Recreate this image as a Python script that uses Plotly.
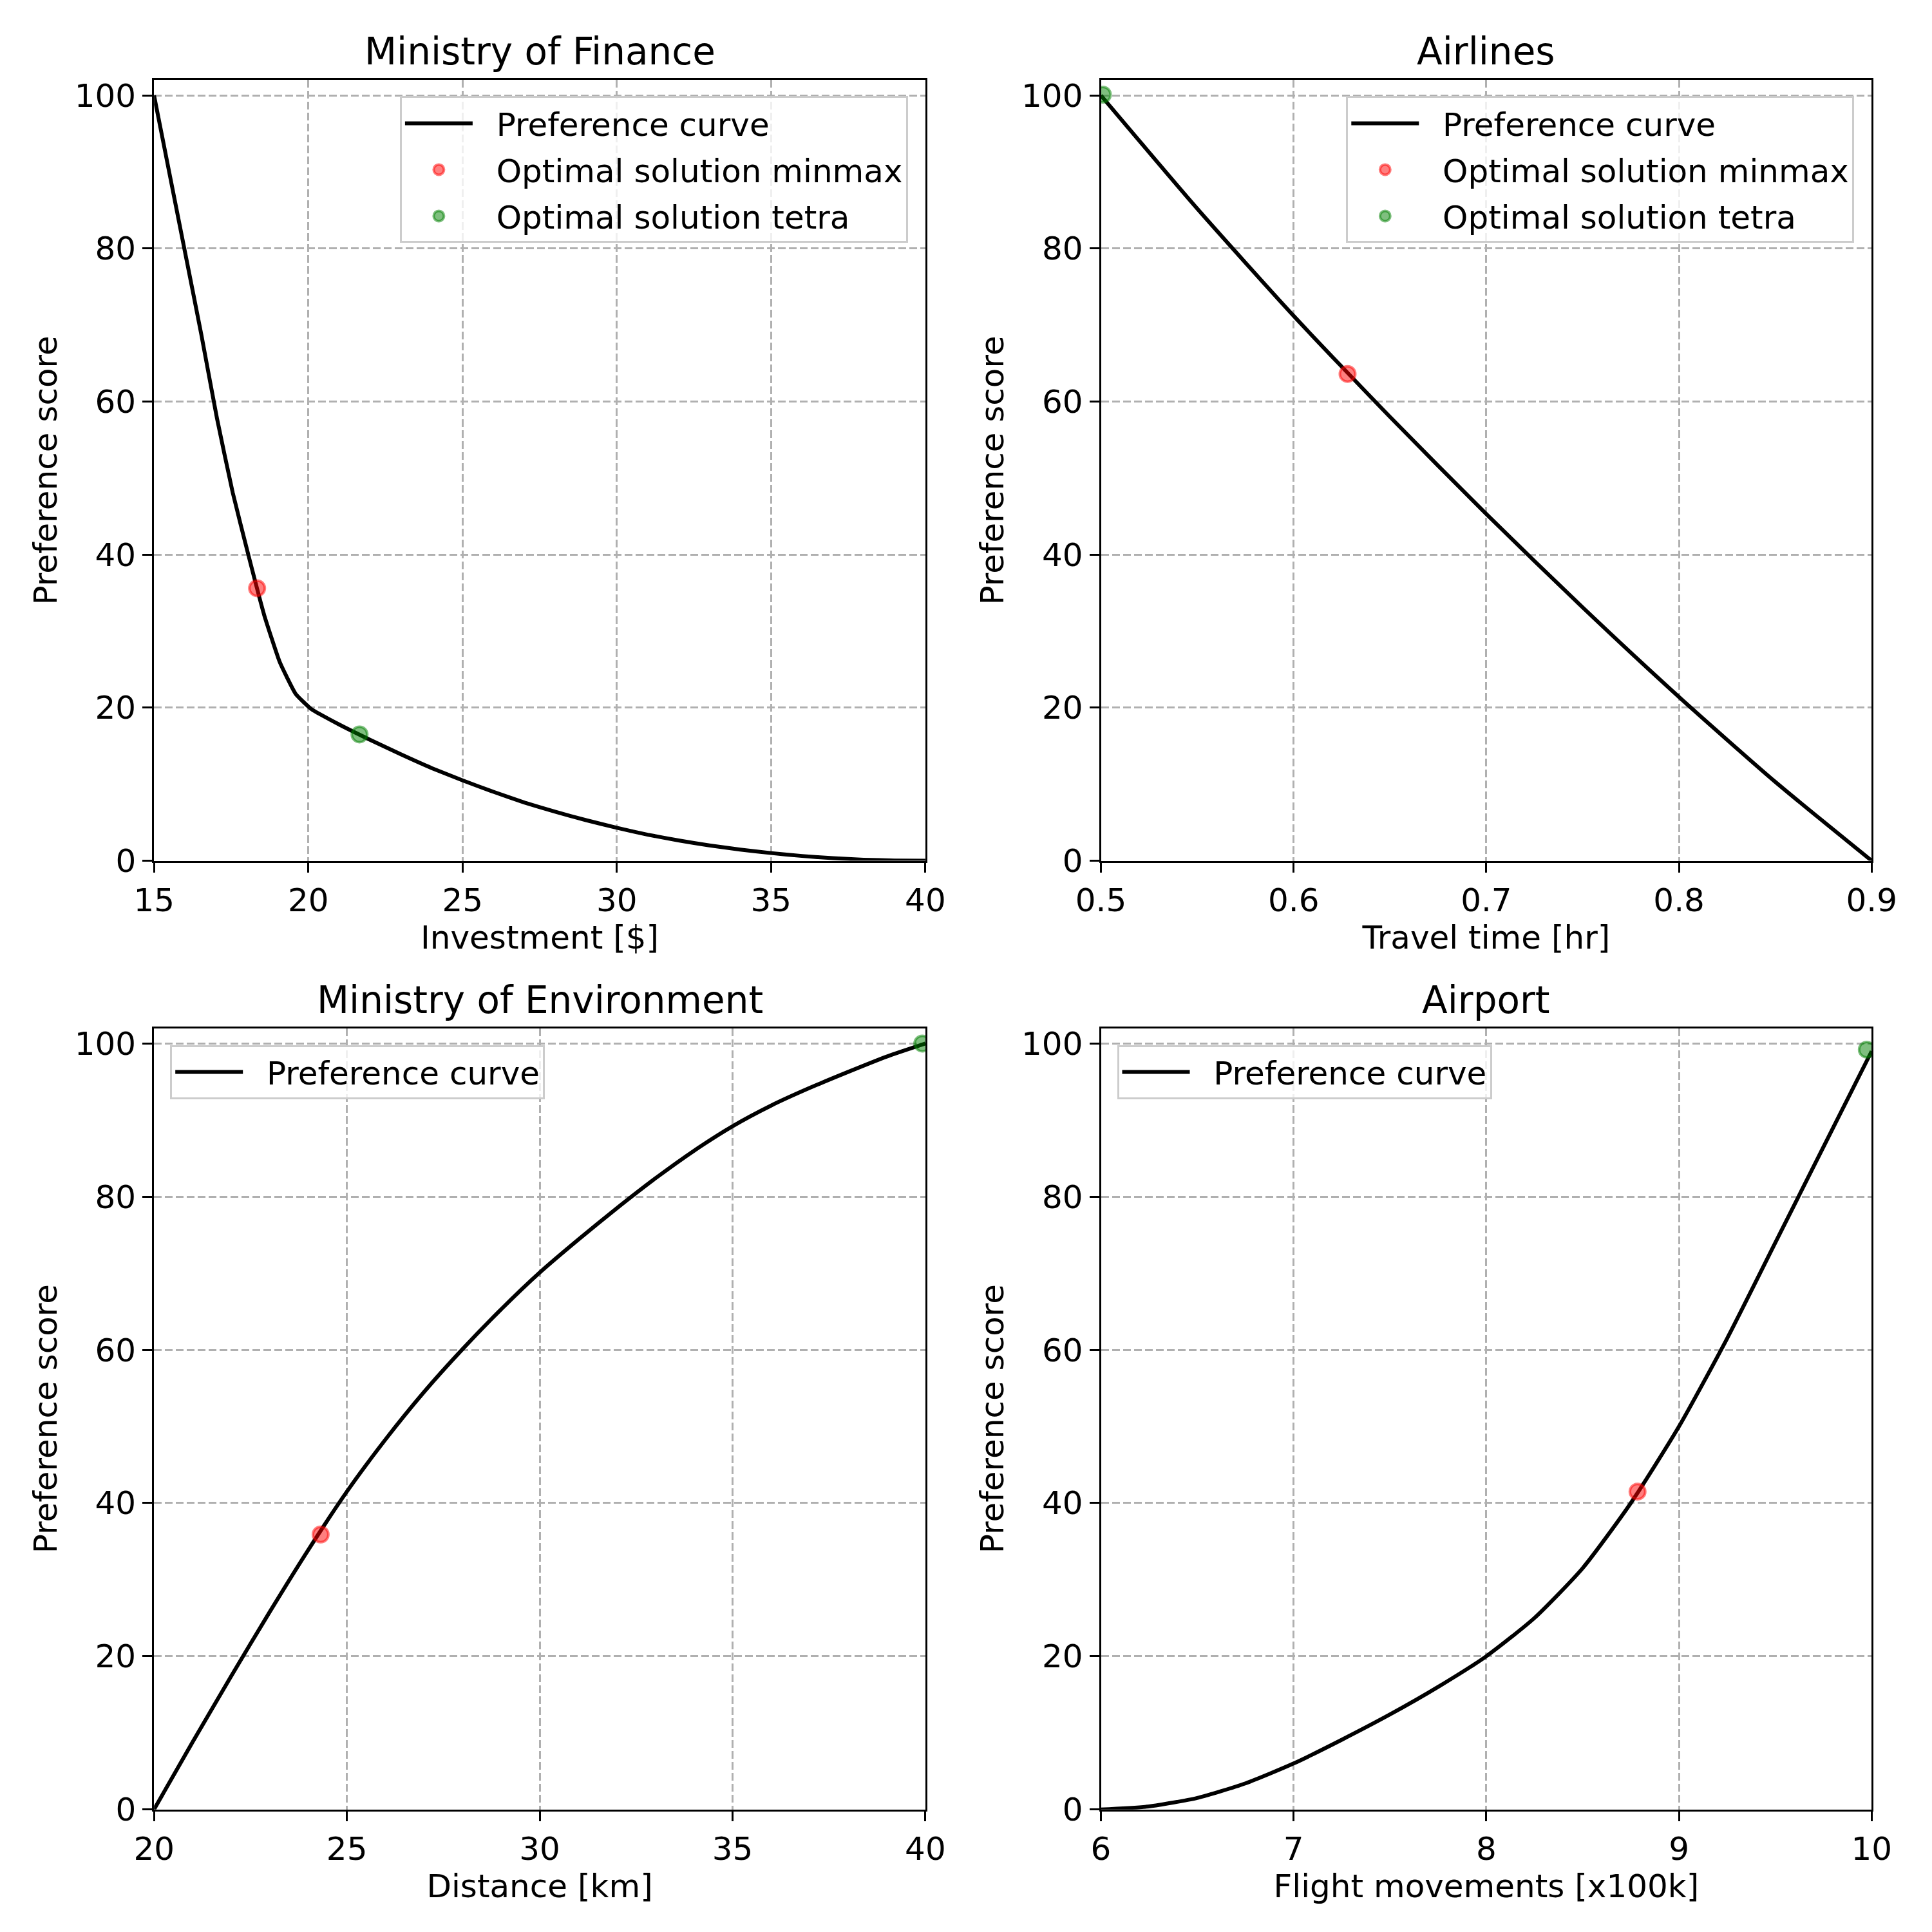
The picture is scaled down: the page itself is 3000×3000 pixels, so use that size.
import plotly.graph_objects as go

# ---------------- data ----------------
fin_x = [15.00, 15.51, 16.02, 16.53, 17.04, 17.55, 18.06, 18.57, 19.08, 19.59, 20.10,
         21, 22, 23, 24, 25, 26, 27, 28, 29, 30, 31, 32, 33, 34, 35, 36, 37, 38, 39, 40]
fin_y = [100, 89.6, 79.2, 68.8, 57.8, 48.1, 39.9, 32.1, 25.9, 21.8, 19.8,
         17.8, 15.8, 13.9, 12.1, 10.5, 9.0, 7.6, 6.4, 5.3, 4.3, 3.4, 2.65, 2.0, 1.45,
         1.0, 0.62, 0.33, 0.13, 0.03, 0]
fin_minmax = ([18.34], [35.6])
fin_tetra = ([21.66], [16.5])

air_x = [0.50, 0.55, 0.60, 0.65, 0.70, 0.75, 0.80, 0.85, 0.90]
air_y = [100, 85.2, 71.2, 58.0, 45.3, 33.1, 21.4, 10.3, 0]
air_minmax = ([0.628], [63.6])
air_tetra = ([0.501], [100.1])

env_x = [20, 21, 22, 23, 24, 25, 26, 27, 28, 29, 30, 31, 32, 33, 34, 35, 36, 37, 38, 39, 40]
env_y = [0, 8.8, 17.4, 25.8, 33.9, 41.5, 48.3, 54.5, 60.1, 65.3, 70.1,
         74.4, 78.5, 82.4, 86.0, 89.2, 91.9, 94.2, 96.3, 98.3, 100]
env_minmax = ([24.32], [35.9])
env_tetra = ([39.92], [100.0])

apt_x = [6.0, 6.25, 6.5, 6.75, 7.0, 7.25, 7.5, 7.75, 8.0, 8.25, 8.5, 8.75, 9.0,
         9.25, 9.5, 9.75, 10.0]
apt_y = [0, 0.4, 1.5, 3.4, 6.0, 9.1, 12.4, 16.0, 20.0, 25.0, 31.5, 40.0, 50.0,
         61.5, 74.0, 86.5, 99.0]
apt_minmax = ([8.785], [41.5])
apt_tetra = ([9.975], [99.2])

titles = ["Ministry of Finance", "Airlines", "Ministry of Environment", "Airport"]
xlabels = ["Investment [$]", "Travel time [hr]", "Distance [km]", "Flight movements [x100k]"]
ylabel = "Preference score"
legend_names = ["Preference curve", "Optimal solution minmax", "Optimal solution tetra"]
xranges = [[15, 40], [0.5, 0.9], [20, 40], [6, 10]]
xticks = [[15, 20, 25, 30, 35, 40], [0.5, 0.6, 0.7, 0.8, 0.9],
          [20, 25, 30, 35, 40], [6, 7, 8, 9, 10]]
yticks = [0, 20, 40, 60, 80, 100]

# ---------------- styling ----------------
FONT = "DejaVu Sans"
W = H = 3000
xdoms = [[239.2 / W, 1436.9 / W], [1709.5 / W, 2906.3 / W]]
ydoms = [[1 - 1336.5 / H, 1 - 124.4 / H], [1 - 2809.7 / H, 1 - 1596.6 / H]]
RED = "rgba(255,0,0,0.5)"
GREEN = "rgba(0,128,0,0.5)"
smooth = [0.4, 0.6, 0.6, 0.6]
PAD = "\u00a0\u00a0"

fig = go.Figure()

panels = [
    (fin_x, fin_y, fin_minmax, fin_tetra),
    (air_x, air_y, air_minmax, air_tetra),
    (env_x, env_y, env_minmax, env_tetra),
    (apt_x, apt_y, apt_minmax, apt_tetra),
]

layout = {}
annotations = []
for i, (cx, cy, mm, tt) in enumerate(panels):
    n = i + 1
    sfx = "" if n == 1 else str(n)
    row, col = divmod(i, 2)
    leg = "legend" if n == 1 else f"legend{n}"
    show_pts = row == 0
    fig.add_trace(go.Scatter(x=cx, y=cy, mode="lines", name=PAD + legend_names[0],
                             line=dict(color="black", width=6, shape="spline",
                                       smoothing=smooth[i]),
                             xaxis=f"x{sfx}", yaxis=f"y{sfx}", legend=leg,
                             showlegend=True, legendgroup=f"a{n}"))
    fig.add_trace(go.Scatter(x=mm[0], y=mm[1], mode="markers",
                             name=PAD + legend_names[1],
                             marker=dict(color=RED, size=24,
                                         line=dict(color=RED, width=4)),
                             xaxis=f"x{sfx}", yaxis=f"y{sfx}", legend=leg,
                             showlegend=show_pts, legendgroup=f"b{n}"))
    fig.add_trace(go.Scatter(x=tt[0], y=tt[1], mode="markers",
                             name=PAD + legend_names[2],
                             marker=dict(color=GREEN, size=24,
                                         line=dict(color=GREEN, width=4)),
                             xaxis=f"x{sfx}", yaxis=f"y{sfx}", legend=leg,
                             showlegend=show_pts, legendgroup=f"c{n}"))

    common = dict(showline=True, mirror=True, linecolor="black", linewidth=3,
                  ticks="outside", ticklen=15, tickwidth=3, tickcolor="black",
                  showgrid=True, gridcolor="#b0b0b0", gridwidth=3,
                  griddash="12px,5px", zeroline=False, automargin=False,
                  tickfont=dict(family=FONT, size=50, color="black"))
    layout[f"xaxis{sfx}"] = dict(common, domain=xdoms[col], anchor=f"y{sfx}",
                                 range=xranges[i], tickmode="array",
                                 tickvals=xticks[i],
                                 title=dict(text=xlabels[i], standoff=6,
                                            font=dict(family=FONT, size=50, color="black")))
    layout[f"yaxis{sfx}"] = dict(common, domain=ydoms[row], anchor=f"x{sfx}",
                                 range=[0, 102], tickmode="array", tickvals=yticks,
                                 title=dict(text=ylabel, standoff=12,
                                            font=dict(family=FONT, size=50, color="black")))
    annotations.append(dict(text=titles[i], xref="paper", yref="paper",
                            x=sum(xdoms[col]) / 2, y=ydoms[row][1],
                            xanchor="center", yanchor="bottom", yshift=8,
                            showarrow=False,
                            font=dict(family=FONT, size=58, color="black")))
    legcommon = dict(bgcolor="rgba(255,255,255,0.8)", bordercolor="#cccccc",
                     borderwidth=3, font=dict(family=FONT, size=50, color="black"),
                     tracegroupgap=4, traceorder="grouped", itemwidth=105)
    if row == 0:
        lx = xdoms[col][1] - 27 / W
        layout[leg] = dict(legcommon, x=lx, y=ydoms[row][1] - 25 / H,
                           xanchor="right", yanchor="top", xref="paper", yref="paper")
    else:
        lx = xdoms[col][0] + 25 / W
        layout[leg] = dict(legcommon, x=lx, y=ydoms[row][1] - 26 / H,
                           xanchor="left", yanchor="top", xref="paper", yref="paper")

fig.update_layout(width=W, height=H, margin=dict(l=0, r=0, t=0, b=0, autoexpand=False),
                  paper_bgcolor="white", plot_bgcolor="white",
                  font=dict(family=FONT, size=50, color="black"),
                  annotations=annotations, **layout)

fig.write_html("out.html", config={"displayModeBar": False},
               post_script="document.body.style.margin='0';")
